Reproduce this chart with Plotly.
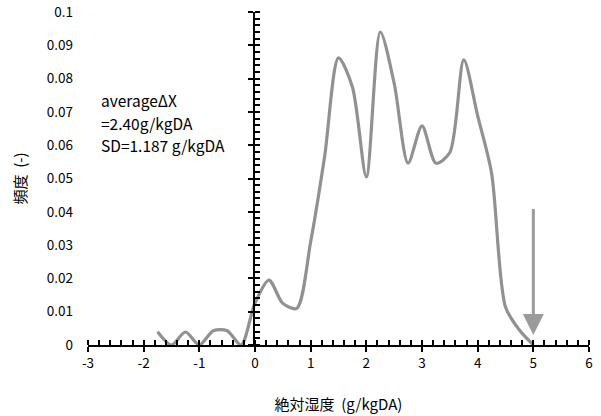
import plotly.graph_objects as go

# Data
x_vals = [-1.75, -1.5, -1.25, -1.0, -0.75, -0.5, -0.25, 0.0, 0.25, 0.5, 0.75,
          1.0, 1.25, 1.5, 1.75, 2.0, 2.25, 2.5, 2.75, 3.0, 3.25, 3.5, 3.75,
          4.0, 4.25, 4.5, 4.75, 5.0]
freq = [0.004, 0.0, 0.0039, 0.0, 0.0043, 0.0043, 0.0, 0.0126, 0.0195, 0.0125, 0.011,
        0.031, 0.0565, 0.0862, 0.0775, 0.0505, 0.094, 0.0786, 0.0546, 0.0658, 0.0546,
        0.0578, 0.0856, 0.0688, 0.0516, 0.0114, 0.0045, 0.0]

x_ticks = [-3, -2, -1, 0, 1, 2, 3, 4, 5, 6]
x_ticktext = ["-3", "-2", "-1", "0", "1", "2", "3", "4", "5", "6"]
y_ticks = [0, 0.01, 0.02, 0.03, 0.04, 0.05, 0.06, 0.07, 0.08, 0.09, 0.1]
y_ticktext = ["0", "0.01", "0.02", "0.03", "0.04", "0.05", "0.06", "0.07", "0.08", "0.09", "0.1"]

arrow_x = 5.0
arrow_top = 0.0413
arrow_tip = 0.003

note_lines = ["averageΔX", "=2.40g/kgDA", "SD=1.187 g/kgDA"]

FONT = "Noto Sans CJK JP, Noto Sans, sans-serif"
LINE_GRAY = "rgb(145,145,145)"

x_range = [-3, 6]
y_range = [0, 0.1]
# fraction of the x domain where x = 0 sits (y axis crossing point)
cross = (0 - x_range[0]) / (x_range[1] - x_range[0])

fig = go.Figure()
fig.add_trace(go.Scatter(x=x_vals, y=freq, mode="lines",
                         line=dict(color=LINE_GRAY, width=3.2, shape="spline", smoothing=0.8),
                         xaxis="x", yaxis="y", showlegend=False, hoverinfo="skip"))
# helper traces so the extra axes are rendered
fig.add_trace(go.Scatter(x=[None], y=[None], xaxis="x2", yaxis="y", showlegend=False))
fig.add_trace(go.Scatter(x=[None], y=[None], xaxis="x3", yaxis="y2", showlegend=False))
fig.add_trace(go.Scatter(x=[None], y=[None], xaxis="x3", yaxis="y3", showlegend=False))

fig.update_layout(
    width=601, height=416,
    margin=dict(l=88, r=12, t=12, b=71, autoexpand=False),
    paper_bgcolor="white", plot_bgcolor="rgba(0,0,0,0)",
    font=dict(family=FONT, size=13.5, color="black"),
    xaxis=dict(range=x_range, domain=[0, 1], showgrid=False, zeroline=False,
               showline=True, linecolor="black", linewidth=2, automargin=False,
               tickvals=x_ticks, ticktext=x_ticktext,
               ticks="outside", ticklen=5, tickwidth=2, tickcolor="black",
               minor=dict(ticks="inside", dtick=0.2, tick0=0, ticklen=5, tickwidth=1.5,
                          tickcolor="black", showgrid=False),
               title=dict(text="絶対湿度  (g/kgDA)", standoff=28, font=dict(size=15)),
               anchor="y"),
    xaxis2=dict(range=x_range, domain=[0, 1], overlaying="x", showgrid=False, zeroline=False,
                showline=False, tickvals=x_ticks, showticklabels=False, automargin=False,
                ticks="inside", ticklen=5, tickwidth=2, tickcolor="black", anchor="y"),
    # invisible axis whose left edge sits at x = 0; the crossing y axis anchors to it
    xaxis3=dict(range=[0, 1], domain=[cross, 1], visible=False, anchor="y2",
                showgrid=False, zeroline=False, automargin=False),
    yaxis=dict(range=y_range, domain=[0, 1], showgrid=False, zeroline=False, showline=False,
               tickvals=y_ticks, ticktext=y_ticktext, ticks="", automargin=False,
               ticklabelstandoff=14,
               title=dict(text="頻度  (-)", standoff=16, font=dict(size=15))),
    yaxis2=dict(range=y_range, domain=[0, 1], anchor="x3", side="left",
                showgrid=False, zeroline=False, automargin=False,
                showline=True, linecolor="black", linewidth=2,
                tickvals=y_ticks, showticklabels=False,
                ticks="outside", ticklen=5, tickwidth=2, tickcolor="black",
                minor=dict(ticks="inside", dtick=0.002, tick0=0, ticklen=5, tickwidth=1.5,
                           tickcolor="black", showgrid=False)),
    yaxis3=dict(range=y_range, overlaying="y2", anchor="x3", side="left",
                showgrid=False, zeroline=False, showline=False, automargin=False,
                tickvals=y_ticks, showticklabels=False,
                ticks="inside", ticklen=5, tickwidth=2, tickcolor="black"),
)

fig.add_annotation(x=arrow_x, y=arrow_tip, ax=arrow_x, ay=arrow_top,
                   xref="x", yref="y", axref="x", ayref="y",
                   showarrow=True, arrowhead=2, arrowsize=1.4, arrowwidth=3,
                   arrowcolor="rgb(155,155,155)", text="")

for i, line in enumerate(note_lines):
    fig.add_annotation(x=0, y=1, xref="paper", yref="paper", xshift=11, yshift=-88 - 22.5 * i,
                       text=line, showarrow=False, align="left", xanchor="left", yanchor="middle",
                       font=dict(size=15.5, family=FONT))

fig.write_html("out.html")
